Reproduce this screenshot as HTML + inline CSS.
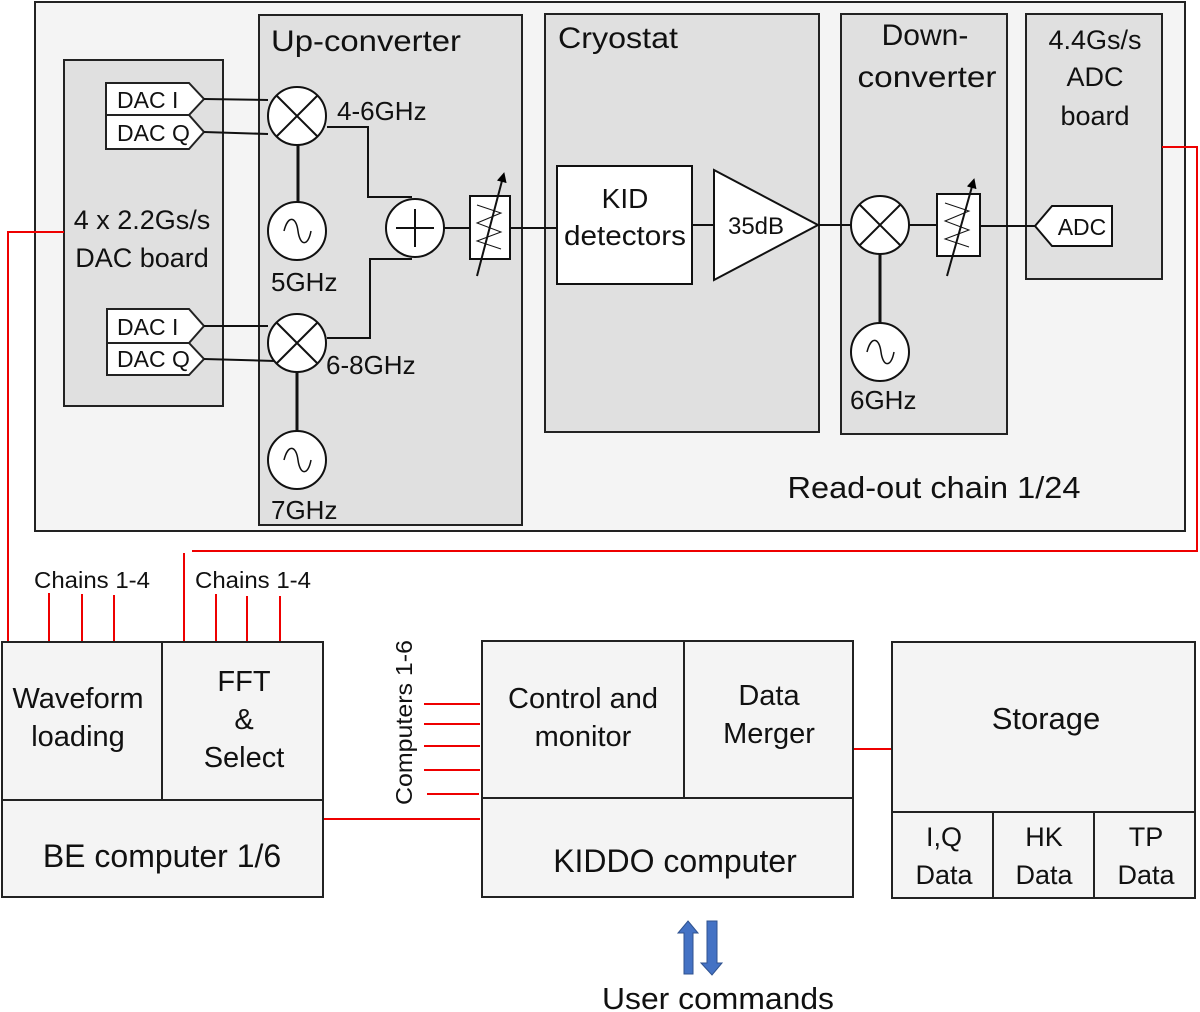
<!DOCTYPE html>
<html><head><meta charset="utf-8"><style>
html,body{margin:0;padding:0;background:#fff;}
svg{display:block;}
text{font-family:"Liberation Sans",sans-serif;fill:#111;}
</style></head><body>
<svg width="1200" height="1012" viewBox="0 0 1200 1012" xmlns="http://www.w3.org/2000/svg">
<defs>
<marker id="ah" markerWidth="10" markerHeight="10" refX="5" refY="5" orient="auto" markerUnits="userSpaceOnUse"><path d="M0,0 L10,5 L0,10 z" fill="#000"/></marker>
</defs>
<rect x="35" y="2" width="1150" height="529" fill="#f4f4f4" stroke="#222" stroke-width="2"/>
<g fill="#e0e0e0" stroke="#222" stroke-width="2">
<rect x="64" y="60" width="159" height="346"/>
<rect x="259" y="15" width="263" height="510"/>
<rect x="545" y="14" width="274" height="418"/>
<rect x="841" y="14" width="166" height="420"/>
<rect x="1026" y="14" width="136" height="265"/>
</g>
<g font-size="30">
<text x="271" y="51" textLength="190" lengthAdjust="spacingAndGlyphs">Up-converter</text>
<text x="558" y="48" textLength="120" lengthAdjust="spacingAndGlyphs">Cryostat</text>
</g>
<g font-size="30" text-anchor="middle">
<text x="925" y="45">Down-</text>
<text x="927" y="87" textLength="139" lengthAdjust="spacingAndGlyphs">converter</text>
</g>
<g font-size="27" text-anchor="middle">
<text x="1095" y="49">4.4Gs/s</text>
<text x="1095" y="86">ADC</text>
<text x="1095" y="125">board</text>
<text x="142" y="229">4 x 2.2Gs/s</text>
<text x="142" y="267">DAC board</text>
</g>
<text x="934" y="498" font-size="31" text-anchor="middle" textLength="293" lengthAdjust="spacingAndGlyphs">Read-out chain 1/24</text>
<g fill="#fff" stroke="#222" stroke-width="2">
<path d="M106,83 H189 L204,99 L189,115 H106 z"/>
<path d="M106,115 H189 L204,132 L189,149 H106 z"/>
<path d="M107,309 H189 L204,326 L189,343 H107 z"/>
<path d="M107,343 H189 L204,359 L189,375 H107 z"/>
</g>
<g font-size="23">
<text x="117" y="108">DAC I</text>
<text x="117" y="141">DAC Q</text>
<text x="117" y="335">DAC I</text>
<text x="117" y="367">DAC Q</text>
</g>
<g stroke="#111" stroke-width="2" fill="none">
<line x1="204" y1="99" x2="268" y2="100"/>
<line x1="204" y1="132" x2="268" y2="134"/>
<line x1="204" y1="326" x2="268" y2="326"/>
<line x1="204" y1="359" x2="275" y2="361"/>
<line x1="298" y1="145" x2="298" y2="202" stroke-width="3"/>
<line x1="297" y1="372" x2="297" y2="431" stroke-width="3"/>
<polyline points="327,127 368,127 368,197 412,197"/>
<polyline points="327,338 370,338 370,259 412,259"/>
<line x1="444" y1="228" x2="470" y2="228"/>
<line x1="510" y1="228" x2="557" y2="228"/>
<line x1="692" y1="225" x2="714" y2="225"/>
<line x1="818" y1="225" x2="851" y2="225"/>
<line x1="909" y1="225" x2="937" y2="225"/>
<line x1="980" y1="226" x2="1035" y2="226"/>
<line x1="880" y1="254" x2="880" y2="323" stroke-width="3"/>
</g>
<g fill="#fff" stroke="#111" stroke-width="2">
<circle cx="297" cy="116" r="29"/>
<circle cx="297" cy="343" r="29"/>
<circle cx="880" cy="225" r="29"/>
<circle cx="297" cy="231" r="29"/>
<circle cx="297" cy="460" r="29"/>
<circle cx="880" cy="352" r="29"/>
<circle cx="415" cy="228" r="29"/>
</g>
<g stroke="#111" stroke-width="2" fill="none">
<path d="M276.5,95.5 L317.5,136.5 M317.5,95.5 L276.5,136.5"/>
<path d="M276.5,322.5 L317.5,363.5 M317.5,322.5 L276.5,363.5"/>
<path d="M859.5,204.5 L900.5,245.5 M900.5,204.5 L859.5,245.5"/>
<path d="M415,209 V247 M396,228 H434"/>
<path d="M284,231 C288,215 296,216 298,231 C300,246 308,247 311,231" stroke-width="1.5"/>
<path d="M284,460 C288,444 296,445 298,460 C300,475 308,476 311,460" stroke-width="1.5"/>
<path d="M867,352 C871,336 879,337 881,352 C883,367 891,368 894,352" stroke-width="1.5"/>
</g>
<g font-size="26">
<text x="337" y="120">4-6GHz</text>
<text x="271" y="291">5GHz</text>
<text x="326" y="374">6-8GHz</text>
<text x="271" y="519">7GHz</text>
<text x="850" y="409">6GHz</text>
</g>
<g fill="#fff" stroke="#111" stroke-width="2">
<rect x="470" y="196" width="40" height="63"/>
<rect x="937" y="194" width="43" height="62"/>
</g>
<g stroke="#111" stroke-width="1" fill="none">
<polyline points="477,205 501,213 477,223 501,232 477,241 501,249"/>
<polyline points="945,203 969,211 945,221 969,230 945,239 969,247"/>
</g>
<g stroke="#111" stroke-width="2">
<line x1="477" y1="276" x2="503" y2="177" marker-end="url(#ah)"/>
<line x1="947" y1="276" x2="973" y2="183" marker-end="url(#ah)"/>
</g>
<rect x="557" y="166" width="135" height="118" fill="#fff" stroke="#111" stroke-width="2"/>
<text x="625" y="208" font-size="28" text-anchor="middle">KID</text>
<text x="625" y="245" font-size="28" text-anchor="middle" textLength="122" lengthAdjust="spacingAndGlyphs">detectors</text>
<path d="M714,170 L818,225 L714,280 z" fill="#fff" stroke="#111" stroke-width="2"/>
<text x="756" y="234" font-size="24" text-anchor="middle">35dB</text>
<path d="M1035,226 L1052,206 H1112 V246 H1052 z" fill="#fff" stroke="#111" stroke-width="2"/>
<text x="1082" y="235" font-size="23" text-anchor="middle">ADC</text>
<g stroke="#e00" stroke-width="2" fill="none">
<polyline points="64,232 8,232 8,642"/>
<polyline points="1162,147 1197,147 1197,551 192,551"/>
<line x1="184" y1="553" x2="184" y2="642"/>
<line x1="49" y1="593" x2="49" y2="642"/>
<line x1="82" y1="594" x2="82" y2="642"/>
<line x1="114" y1="595" x2="114" y2="642"/>
<line x1="216" y1="594" x2="216" y2="642"/>
<line x1="247" y1="596" x2="247" y2="642"/>
<line x1="280" y1="596" x2="280" y2="642"/>
<line x1="424" y1="704" x2="480" y2="704"/>
<line x1="424" y1="724" x2="480" y2="724"/>
<line x1="424" y1="746" x2="480" y2="746"/>
<line x1="424" y1="770" x2="480" y2="770"/>
<line x1="427" y1="794" x2="479" y2="794"/>
<line x1="323" y1="819" x2="480" y2="819"/>
<line x1="853" y1="749" x2="892" y2="749"/>
</g>
<g font-size="23">
<text x="34" y="588" textLength="116" lengthAdjust="spacingAndGlyphs">Chains 1-4</text>
<text x="195" y="588" textLength="116" lengthAdjust="spacingAndGlyphs">Chains 1-4</text>
<text transform="translate(412,805) rotate(-90)" textLength="165" lengthAdjust="spacingAndGlyphs">Computers 1-6</text>
</g>
<g fill="#f4f4f4" stroke="#222" stroke-width="2">
<rect x="2" y="642" width="160" height="158"/>
<rect x="162" y="642" width="161" height="158"/>
<rect x="2" y="800" width="321" height="97"/>
<rect x="482" y="641" width="202" height="157"/>
<rect x="684" y="641" width="169" height="157"/>
<rect x="482" y="798" width="371" height="99"/>
<rect x="892" y="642" width="303" height="170"/>
<rect x="892" y="812" width="101" height="86"/>
<rect x="993" y="812" width="101" height="86"/>
<rect x="1094" y="812" width="101" height="86"/>
</g>
<g font-size="29" text-anchor="middle">
<text x="78" y="708">Waveform</text>
<text x="78" y="746">loading</text>
<text x="244" y="691">FFT</text>
<text x="244" y="729">&amp;</text>
<text x="244" y="767">Select</text>
<text x="162" y="867" font-size="32">BE computer 1/6</text>
<text x="583" y="708">Control and</text>
<text x="583" y="746">monitor</text>
<text x="769" y="705">Data</text>
<text x="769" y="743">Merger</text>
<text x="675" y="872" font-size="32">KIDDO computer</text>
<text x="1046" y="729" font-size="31">Storage</text>
<text x="944" y="846" font-size="27">I,Q</text>
<text x="944" y="884" font-size="27">Data</text>
<text x="1044" y="846" font-size="27">HK</text>
<text x="1044" y="884" font-size="27">Data</text>
<text x="1146" y="846" font-size="27">TP</text>
<text x="1146" y="884" font-size="27">Data</text>
<text x="718" y="1009" font-size="31" textLength="232" lengthAdjust="spacingAndGlyphs">User commands</text>
</g>
<g fill="#4472c4" stroke="#2f528f" stroke-width="1">
<path d="M688,921 L698,933 H693 V974 H684 V933 H678 z"/>
<path d="M707,921 H717 V963 H722 L712,975 L701,963 H707 z"/>
</g>
</svg>
</body></html>
